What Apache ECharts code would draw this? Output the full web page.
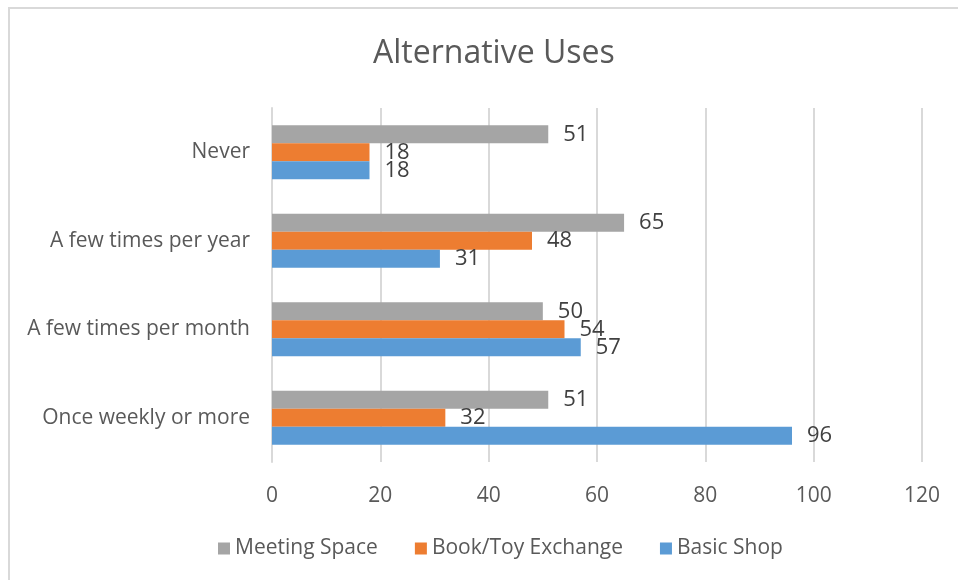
<!DOCTYPE html>
<html>
<head>
<meta charset="utf-8">
<script src="https://cdn.jsdelivr.net/npm/echarts@6/dist/echarts.min.js"></script>
<style>
  html, body { margin: 0; padding: 0; background: #fff; }
  #chart { width: 958px; height: 580px; }
</style>
</head>
<body>
<div id="chart"></div>
<script>
// Survey categories, listed bottom to top along the y axis
const categories = ['Once weekly or more', 'A few times per month', 'A few times per year', 'Never'];
// Series in drawing order: the first one sits on top within each group
const seriesNames = ['Meeting Space', 'Book/Toy Exchange', 'Basic Shop'];
const meetingSpace = [51, 50, 65, 51];
const bookToyExchange = [32, 54, 48, 18];
const basicShop = [96, 57, 31, 18];
const xTicks = [0, 20, 40, 60, 80, 100, 120];

const FONT = 'Open Sans';
const colors = { 'Basic Shop': '#5B9BD5', 'Book/Toy Exchange': '#ED7D31', 'Meeting Space': '#A5A5A5' };
const values = { 'Basic Shop': basicShop, 'Book/Toy Exchange': bookToyExchange, 'Meeting Space': meetingSpace };

const chart = echarts.init(document.getElementById('chart'), null, { renderer: 'canvas' });

chart.setOption({
  backgroundColor: '#ffffff',
  animation: false,
  title: {
    text: 'Alternative Uses',
    left: 368,
    top: 33,
    textStyle: { fontFamily: FONT, fontSize: 32, fontWeight: 'normal', color: '#595959' }
  },
  legend: {
    data: seriesNames,
    bottom: 16,
    left: 213,
    itemWidth: 12,
    itemHeight: 12,
    itemGap: 37,
    icon: 'rect',
    textStyle: { fontFamily: FONT, fontSize: 21, color: '#595959' }
  },
  grid: { left: 272, right: 36, top: 108, bottom: 118, containLabel: false },
  xAxis: {
    type: 'value',
    min: xTicks[0],
    max: xTicks[xTicks.length - 1],
    interval: 20,
    axisLine: { show: false },
    axisTick: { show: false },
    splitLine: { show: true, lineStyle: { color: '#D9D9D9', width: 2 } },
    axisLabel: { margin: 24, fontFamily: FONT, fontSize: 21, color: '#595959' }
  },
  yAxis: {
    type: 'category',
    data: categories,
    axisLine: { show: true, lineStyle: { color: '#D9D9D9', width: 2 } },
    axisTick: { show: false },
    axisLabel: { margin: 22, fontFamily: FONT, fontSize: 21, color: '#595959' }
  },
  series: seriesNames.map(name => ({
    name: name,
    type: 'bar',
    data: values[name],
    barWidth: 18,
    barGap: '0%',
    itemStyle: { color: colors[name] },
    label: {
      show: true,
      position: 'right',
      distance: 15,
      fontFamily: FONT,
      fontSize: 22,
      color: '#404040'
    }
  })),
  graphic: [
    {
      type: 'polyline',
      shape: { points: [[9, 580], [9, 8], [958, 8]] },
      style: { stroke: '#D9D9D9', lineWidth: 2, fill: null },
      silent: true
    }
  ]
});
</script>
</body>
</html>
